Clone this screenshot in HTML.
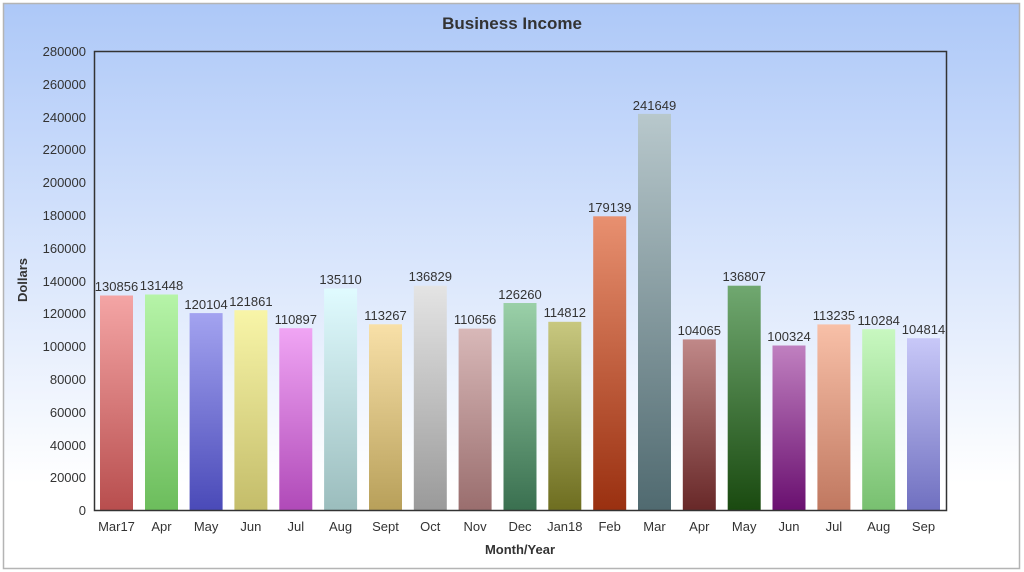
<!DOCTYPE html>
<html><head><meta charset="utf-8"><style>
html,body{margin:0;padding:0;background:#fff;}
svg{display:block;font-family:"Liberation Sans",sans-serif;}
</style></head><body>
<svg width="1024" height="572" viewBox="0 0 1024 572" xmlns="http://www.w3.org/2000/svg">
<defs>
<linearGradient id="bg" x1="0" y1="0" x2="0" y2="1"><stop offset="0" stop-color="#adc8f8"/><stop offset="0.85" stop-color="#ffffff"/></linearGradient>
<linearGradient id="g0" x1="0" y1="0" x2="0" y2="1"><stop offset="0" stop-color="#f4a5a5"/><stop offset="1" stop-color="#b84e4e"/></linearGradient>
<linearGradient id="g1" x1="0" y1="0" x2="0" y2="1"><stop offset="0" stop-color="#b6f4a8"/><stop offset="1" stop-color="#6cbd5c"/></linearGradient>
<linearGradient id="g2" x1="0" y1="0" x2="0" y2="1"><stop offset="0" stop-color="#a3a3f0"/><stop offset="1" stop-color="#4a4ab8"/></linearGradient>
<linearGradient id="g3" x1="0" y1="0" x2="0" y2="1"><stop offset="0" stop-color="#f8f5a8"/><stop offset="1" stop-color="#c4bd6a"/></linearGradient>
<linearGradient id="g4" x1="0" y1="0" x2="0" y2="1"><stop offset="0" stop-color="#f0a5f4"/><stop offset="1" stop-color="#b04ab8"/></linearGradient>
<linearGradient id="g5" x1="0" y1="0" x2="0" y2="1"><stop offset="0" stop-color="#e0fbff"/><stop offset="1" stop-color="#9bbdbd"/></linearGradient>
<linearGradient id="g6" x1="0" y1="0" x2="0" y2="1"><stop offset="0" stop-color="#f8e0a8"/><stop offset="1" stop-color="#b8a05a"/></linearGradient>
<linearGradient id="g7" x1="0" y1="0" x2="0" y2="1"><stop offset="0" stop-color="#e4e4e4"/><stop offset="1" stop-color="#9a9a9a"/></linearGradient>
<linearGradient id="g8" x1="0" y1="0" x2="0" y2="1"><stop offset="0" stop-color="#d8b8b8"/><stop offset="1" stop-color="#9a6e6e"/></linearGradient>
<linearGradient id="g9" x1="0" y1="0" x2="0" y2="1"><stop offset="0" stop-color="#9ad0a8"/><stop offset="1" stop-color="#3a7050"/></linearGradient>
<linearGradient id="g10" x1="0" y1="0" x2="0" y2="1"><stop offset="0" stop-color="#c8c880"/><stop offset="1" stop-color="#6e6e20"/></linearGradient>
<linearGradient id="g11" x1="0" y1="0" x2="0" y2="1"><stop offset="0" stop-color="#e89070"/><stop offset="1" stop-color="#9a3010"/></linearGradient>
<linearGradient id="g12" x1="0" y1="0" x2="0" y2="1"><stop offset="0" stop-color="#b8c8cc"/><stop offset="1" stop-color="#506a70"/></linearGradient>
<linearGradient id="g13" x1="0" y1="0" x2="0" y2="1"><stop offset="0" stop-color="#c08888"/><stop offset="1" stop-color="#682828"/></linearGradient>
<linearGradient id="g14" x1="0" y1="0" x2="0" y2="1"><stop offset="0" stop-color="#70a870"/><stop offset="1" stop-color="#1a4a10"/></linearGradient>
<linearGradient id="g15" x1="0" y1="0" x2="0" y2="1"><stop offset="0" stop-color="#c080c0"/><stop offset="1" stop-color="#6a1070"/></linearGradient>
<linearGradient id="g16" x1="0" y1="0" x2="0" y2="1"><stop offset="0" stop-color="#f8c0a8"/><stop offset="1" stop-color="#c07860"/></linearGradient>
<linearGradient id="g17" x1="0" y1="0" x2="0" y2="1"><stop offset="0" stop-color="#c8f8c0"/><stop offset="1" stop-color="#78c070"/></linearGradient>
<linearGradient id="g18" x1="0" y1="0" x2="0" y2="1"><stop offset="0" stop-color="#c8c8f8"/><stop offset="1" stop-color="#7070c0"/></linearGradient>
</defs>
<rect x="3.5" y="3.5" width="1016" height="565" fill="url(#bg)" stroke="#b4b4b4" stroke-width="1.5"/>
<text x="512" y="29" text-anchor="middle" font-size="17" font-weight="bold" fill="#333">Business Income</text>
<g font-size="13" fill="#333" text-anchor="end">
<text x="86" y="56">280000</text><text x="86" y="89">260000</text><text x="86" y="122">240000</text><text x="86" y="154">220000</text><text x="86" y="187">200000</text><text x="86" y="220">180000</text><text x="86" y="253">160000</text><text x="86" y="286">140000</text><text x="86" y="318">120000</text><text x="86" y="351">100000</text><text x="86" y="384">80000</text><text x="86" y="417">60000</text><text x="86" y="450">40000</text><text x="86" y="482">20000</text><text x="86" y="515">0</text>
</g>
<text transform="translate(27,280) rotate(-90)" text-anchor="middle" font-size="13" font-weight="bold" fill="#333">Dollars</text>
<text x="520" y="554" text-anchor="middle" font-size="13" font-weight="bold" fill="#333">Month/Year</text>
<g>
<rect x="100" y="295.5" width="33" height="214.5" fill="url(#g0)"/>
<rect x="145" y="294.5" width="33" height="215.5" fill="url(#g1)"/>
<rect x="189.6" y="313.1" width="33" height="196.9" fill="url(#g2)"/>
<rect x="234.4" y="310.2" width="33" height="199.8" fill="url(#g3)"/>
<rect x="279.3" y="328.2" width="33" height="181.8" fill="url(#g4)"/>
<rect x="324.1" y="288.5" width="33" height="221.5" fill="url(#g5)"/>
<rect x="369" y="324.3" width="33" height="185.7" fill="url(#g6)"/>
<rect x="413.8" y="285.7" width="33" height="224.3" fill="url(#g7)"/>
<rect x="458.6" y="328.6" width="33" height="181.4" fill="url(#g8)"/>
<rect x="503.5" y="303" width="33" height="207" fill="url(#g9)"/>
<rect x="548.3" y="321.8" width="33" height="188.2" fill="url(#g10)"/>
<rect x="593.2" y="216.3" width="33" height="293.7" fill="url(#g11)"/>
<rect x="638" y="113.9" width="33" height="396.1" fill="url(#g12)"/>
<rect x="682.8" y="339.4" width="33" height="170.6" fill="url(#g13)"/>
<rect x="727.7" y="285.7" width="33" height="224.3" fill="url(#g14)"/>
<rect x="772.5" y="345.5" width="33" height="164.5" fill="url(#g15)"/>
<rect x="817.4" y="324.4" width="33" height="185.6" fill="url(#g16)"/>
<rect x="862.2" y="329.2" width="33" height="180.8" fill="url(#g17)"/>
<rect x="907" y="338.2" width="33" height="171.8" fill="url(#g18)"/>
</g>
<g font-size="13" fill="#333" text-anchor="middle">
<text x="116.5" y="291">130856</text><text x="161.5" y="290">131448</text><text x="206.1" y="309">120104</text><text x="250.9" y="306">121861</text><text x="295.8" y="324">110897</text><text x="340.6" y="284">135110</text><text x="385.5" y="320">113267</text><text x="430.3" y="281">136829</text><text x="475.1" y="324">110656</text><text x="520" y="299">126260</text><text x="564.8" y="317">114812</text><text x="609.7" y="212">179139</text><text x="654.5" y="110">241649</text><text x="699.3" y="335">104065</text><text x="744.2" y="281">136807</text><text x="789" y="341">100324</text><text x="833.9" y="320">113235</text><text x="878.7" y="325">110284</text><text x="923.5" y="334">104814</text>
</g>
<g font-size="13" fill="#333" text-anchor="middle">
<text x="116.5" y="531">Mar17</text><text x="161.5" y="531">Apr</text><text x="206.1" y="531">May</text><text x="250.9" y="531">Jun</text><text x="295.8" y="531">Jul</text><text x="340.6" y="531">Aug</text><text x="385.5" y="531">Sept</text><text x="430.3" y="531">Oct</text><text x="475.1" y="531">Nov</text><text x="520" y="531">Dec</text><text x="564.8" y="531">Jan18</text><text x="609.7" y="531">Feb</text><text x="654.5" y="531">Mar</text><text x="699.3" y="531">Apr</text><text x="744.2" y="531">May</text><text x="789" y="531">Jun</text><text x="833.9" y="531">Jul</text><text x="878.7" y="531">Aug</text><text x="923.5" y="531">Sep</text>
</g>
<rect x="94.5" y="51.5" width="852" height="459" fill="none" stroke="#333" stroke-width="1.5"/>
</svg>
</body></html>
